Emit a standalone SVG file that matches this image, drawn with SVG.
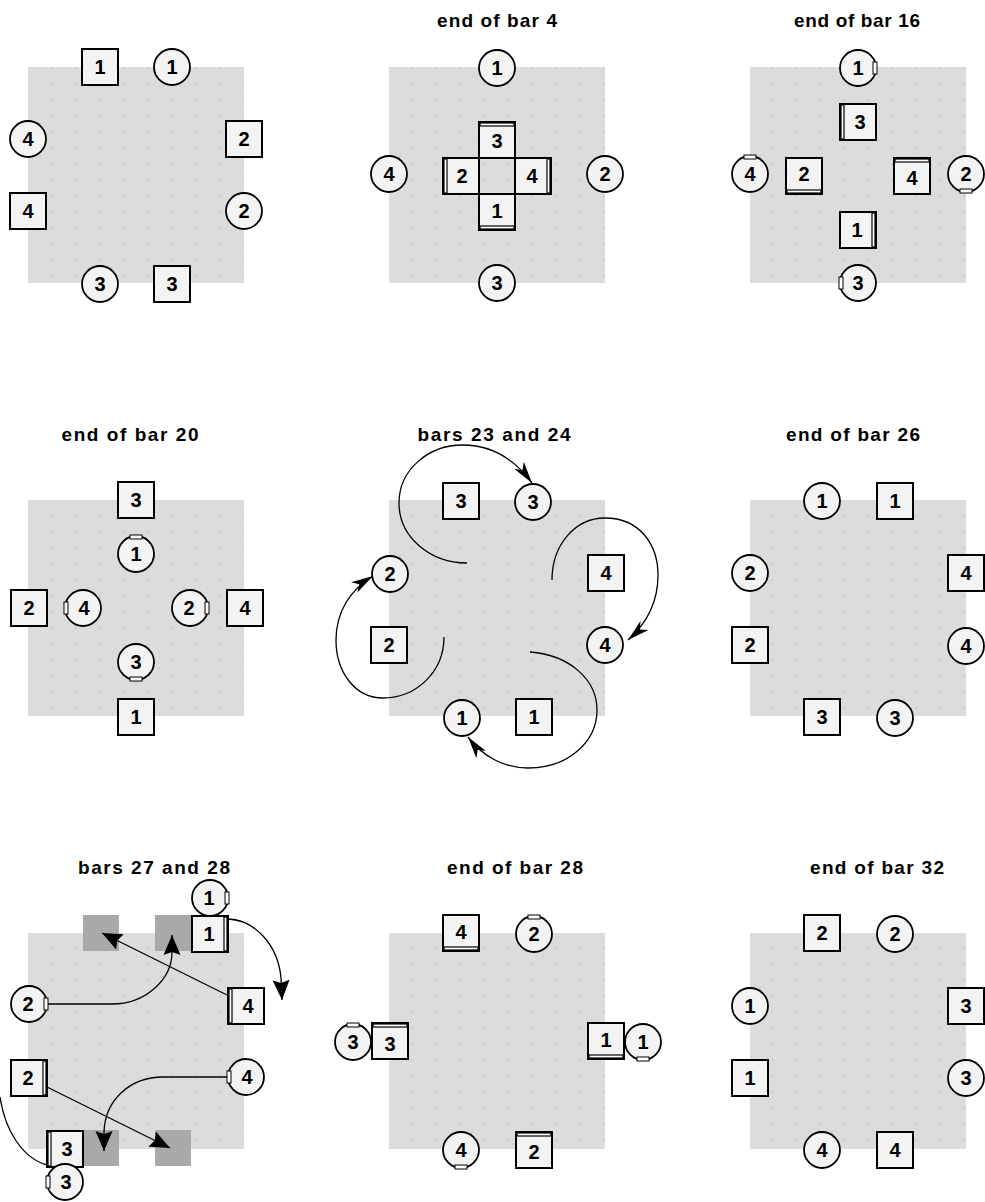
<svg xmlns="http://www.w3.org/2000/svg" width="985" height="1202" viewBox="0 0 985 1202">
<style>
.bg{fill:#dcdcdc}
.dots{fill:url(#dp)}
.sq{fill:#f3f3f3;stroke:#000;stroke-width:2}
.ci{fill:#f3f3f3;stroke:#000;stroke-width:1.8}
.dk{fill:#a9a9a9}
.db{fill:#fff;stroke:#000;stroke-width:1.2}
.mk{fill:#fff;stroke:#000;stroke-width:1}
.n{font-family:"Liberation Sans",Arial,sans-serif;font-weight:bold;font-size:20px;text-anchor:middle;fill:#000}
.t{font-family:"Liberation Sans",Arial,sans-serif;font-weight:bold;font-size:19px;text-anchor:middle;fill:#000}
.c{fill:none;stroke:#000;stroke-width:1.3}
</style>
<defs>
<pattern id="dp" width="24" height="16" patternUnits="userSpaceOnUse">
<circle cx="4" cy="4" r="0.7" fill="#b2b2b2"/>
<circle cx="16" cy="12" r="0.7" fill="#b2b2b2"/>
</pattern>
<marker id="ah" markerUnits="userSpaceOnUse" markerWidth="22" markerHeight="20" refX="20" refY="10" orient="auto">
<path d="M0,1.5 L20,10 L0,18.5 L3,10 z" fill="#000"/>
</marker>
<marker id="as" markerUnits="userSpaceOnUse" markerWidth="24" markerHeight="14" refX="22" refY="7" orient="auto">
<path d="M0,1 L22,7 L0,13 L6,7 z" fill="#000"/>
</marker>
</defs>

<g id="titles">
<text class="t" x="497" y="27" textLength="120" lengthAdjust="spacing">end of bar 4</text>
<text class="t" x="857" y="27" textLength="126" lengthAdjust="spacing">end of bar 16</text>
<text class="t" x="130" y="441" textLength="137" lengthAdjust="spacing">end of bar 20</text>
<text class="t" x="494" y="441" textLength="153" lengthAdjust="spacing">bars 23 and 24</text>
<text class="t" x="853" y="441" textLength="134" lengthAdjust="spacing">end of bar 26</text>
<text class="t" x="154" y="874" textLength="152" lengthAdjust="spacing">bars 27 and 28</text>
<text class="t" x="515" y="874" textLength="136" lengthAdjust="spacing">end of bar 28</text>
<text class="t" x="877" y="874" textLength="134" lengthAdjust="spacing">end of bar 32</text>
</g>

<g id="floors">
<rect class="bg" x="28" y="67" width="216" height="216"/><rect class="dots" x="28" y="67" width="216" height="216"/>
<rect class="bg" x="389" y="67" width="216" height="216"/><rect class="dots" x="389" y="67" width="216" height="216"/>
<rect class="bg" x="750" y="67" width="216" height="216"/><rect class="dots" x="750" y="67" width="216" height="216"/>
<rect class="bg" x="28" y="500" width="216" height="216"/><rect class="dots" x="28" y="500" width="216" height="216"/>
<rect class="bg" x="389" y="500" width="216" height="216"/><rect class="dots" x="389" y="500" width="216" height="216"/>
<rect class="bg" x="750" y="500" width="216" height="216"/><rect class="dots" x="750" y="500" width="216" height="216"/>
<rect class="bg" x="28" y="933" width="216" height="216"/><rect class="dots" x="28" y="933" width="216" height="216"/>
<rect class="bg" x="389" y="933" width="216" height="216"/><rect class="dots" x="389" y="933" width="216" height="216"/>
<rect class="bg" x="750" y="933" width="216" height="216"/><rect class="dots" x="750" y="933" width="216" height="216"/>
<rect class="dk" x="83" y="915" width="36" height="36"/>
<rect class="dk" x="155" y="915" width="36" height="36"/>
<rect class="dk" x="83" y="1130" width="36" height="36"/>
<rect class="dk" x="155" y="1130" width="36" height="36"/>
</g>

<g id="connectors">
<path class="c" marker-end="url(#as)" d="M467,563 C430,563 399,537 399,503 C399,470 428,445 463,445 C492,445 515,460 532,483"/>
<path class="c" marker-end="url(#as)" d="M552,580 C552,545 575,518 605,518 C640,518 658,545 658,575 C658,605 645,625 628,640"/>
<path class="c" marker-end="url(#as)" d="M530,652 C570,655 597,680 597,710 C597,742 568,768 528,768 C505,768 483,757 468,737"/>
<path class="c" marker-end="url(#as)" d="M444,637 C444,672 416,698 383,698 C355,698 336,672 336,640 C336,612 350,590 373,576"/>
<path class="c" marker-end="url(#ah)" d="M227,995 L102,933"/>
<path class="c" marker-end="url(#ah)" d="M47,1004 L112,1004 C145,1004 172,980 172,952 L172,935"/>
<path class="c" marker-end="url(#ah)" d="M228,919 C255,920 278,945 281,978 L282,1000"/>
<path class="c" marker-end="url(#ah)" d="M47,1087 L170,1148"/>
<path class="c" marker-end="url(#ah)" d="M228,1077 L163,1077 C130,1077 105,1100 104,1132 L104,1151"/>
<path class="c" d="M0,1097 C5,1130 22,1158 47,1165"/>
</g>

<!-- Panel 1 -->
<g id="p1-s1"><rect class="sq" x="82" y="49" width="36" height="36"/><text class="n" x="100" y="74">1</text></g>
<g id="p1-c1"><circle class="ci" cx="172" cy="67" r="18"/><text class="n" x="172" y="74">1</text></g>
<g id="p1-c4"><circle class="ci" cx="28" cy="139" r="18"/><text class="n" x="28" y="146">4</text></g>
<g id="p1-s2"><rect class="sq" x="226" y="121" width="36" height="36"/><text class="n" x="244" y="146">2</text></g>
<g id="p1-s4"><rect class="sq" x="10" y="193" width="36" height="36"/><text class="n" x="28" y="218">4</text></g>
<g id="p1-c2"><circle class="ci" cx="244" cy="211" r="18"/><text class="n" x="244" y="218">2</text></g>
<g id="p1-c3"><circle class="ci" cx="100" cy="284" r="18"/><text class="n" x="100" y="291">3</text></g>
<g id="p1-s3"><rect class="sq" x="154" y="266" width="36" height="36"/><text class="n" x="172" y="291">3</text></g>

<!-- Panel 2 -->
<g id="p2-c1"><circle class="ci" cx="497" cy="68" r="18"/><text class="n" x="497" y="75">1</text></g>
<g id="p2-c4"><circle class="ci" cx="389" cy="174" r="18"/><text class="n" x="389" y="181">4</text></g>
<g id="p2-c2"><circle class="ci" cx="605" cy="174" r="18"/><text class="n" x="605" y="181">2</text></g>
<g id="p2-c3"><circle class="ci" cx="497" cy="283" r="18"/><text class="n" x="497" y="290">3</text></g>
<g id="p2-s3"><rect class="sq" x="479" y="122" width="36" height="36"/><rect class="db" x="480" y="123" width="34" height="3"/><text class="n" x="497" y="148">3</text></g>
<g id="p2-s2"><rect class="sq" x="443" y="158" width="36" height="36"/><rect class="db" x="444" y="159" width="3" height="34"/><text class="n" x="462" y="183">2</text></g>
<g id="p2-s4"><rect class="sq" x="515" y="158" width="36" height="36"/><rect class="db" x="547" y="159" width="3" height="34"/><text class="n" x="532" y="183">4</text></g>
<g id="p2-s1"><rect class="sq" x="479" y="194" width="36" height="36"/><rect class="db" x="480" y="226" width="34" height="3"/><text class="n" x="497" y="218">1</text></g>

<!-- Panel 3 -->
<g id="p3-c1"><circle class="ci" cx="858" cy="68" r="18"/><rect class="mk" x="873" y="62" width="4" height="12"/><text class="n" x="858" y="75">1</text></g>
<g id="p3-c4"><circle class="ci" cx="750" cy="174" r="18"/><rect class="mk" x="744" y="155" width="12" height="4"/><text class="n" x="750" y="181">4</text></g>
<g id="p3-c2"><circle class="ci" cx="966" cy="174" r="18"/><rect class="mk" x="960" y="189" width="12" height="4"/><text class="n" x="966" y="181">2</text></g>
<g id="p3-c3"><circle class="ci" cx="858" cy="283" r="18"/><rect class="mk" x="839" y="277" width="4" height="12"/><text class="n" x="858" y="290">3</text></g>
<g id="p3-s3"><rect class="sq" x="840" y="104" width="36" height="36"/><rect class="db" x="841" y="105" width="3" height="34"/><text class="n" x="860" y="129">3</text></g>
<g id="p3-s2"><rect class="sq" x="786" y="158" width="36" height="36"/><rect class="db" x="787" y="190" width="34" height="3"/><text class="n" x="804" y="181">2</text></g>
<g id="p3-s4"><rect class="sq" x="894" y="158" width="36" height="36"/><rect class="db" x="895" y="159" width="34" height="3"/><text class="n" x="912" y="185">4</text></g>
<g id="p3-s1"><rect class="sq" x="840" y="212" width="36" height="36"/><rect class="db" x="872" y="213" width="3" height="34"/><text class="n" x="857" y="237">1</text></g>

<!-- Panel 4 -->
<g id="p4-s3"><rect class="sq" x="118" y="482" width="36" height="36"/><text class="n" x="136" y="507">3</text></g>
<g id="p4-c1"><circle class="ci" cx="136" cy="554" r="18"/><rect class="mk" x="130" y="535" width="12" height="4"/><text class="n" x="136" y="561">1</text></g>
<g id="p4-c4"><circle class="ci" cx="83" cy="608" r="18"/><rect class="mk" x="64" y="602" width="4" height="12"/><text class="n" x="84" y="615">4</text></g>
<g id="p4-c2"><circle class="ci" cx="190" cy="608" r="18"/><rect class="mk" x="205" y="602" width="4" height="12"/><text class="n" x="189" y="615">2</text></g>
<g id="p4-c3"><circle class="ci" cx="136" cy="662" r="18"/><rect class="mk" x="130" y="677" width="12" height="4"/><text class="n" x="136" y="669">3</text></g>
<g id="p4-s2"><rect class="sq" x="11" y="590" width="36" height="36"/><text class="n" x="29" y="615">2</text></g>
<g id="p4-s4"><rect class="sq" x="227" y="590" width="36" height="36"/><text class="n" x="245" y="615">4</text></g>
<g id="p4-s1"><rect class="sq" x="118" y="699" width="36" height="36"/><text class="n" x="136" y="724">1</text></g>

<!-- Panel 5 -->
<g id="p5-s3"><rect class="sq" x="443" y="483" width="36" height="36"/><text class="n" x="461" y="508">3</text></g>
<g id="p5-c3"><circle class="ci" cx="533" cy="502" r="18"/><text class="n" x="533" y="509">3</text></g>
<g id="p5-s4"><rect class="sq" x="588" y="555" width="36" height="36"/><text class="n" x="606" y="580">4</text></g>
<g id="p5-c4"><circle class="ci" cx="605" cy="645" r="18"/><text class="n" x="605" y="652">4</text></g>
<g id="p5-c2"><circle class="ci" cx="390" cy="574" r="18"/><text class="n" x="390" y="581">2</text></g>
<g id="p5-s2"><rect class="sq" x="371" y="627" width="36" height="36"/><text class="n" x="389" y="652">2</text></g>
<g id="p5-c1"><circle class="ci" cx="462" cy="718" r="18"/><text class="n" x="462" y="725">1</text></g>
<g id="p5-s1"><rect class="sq" x="516" y="699" width="36" height="36"/><text class="n" x="534" y="724">1</text></g>

<!-- Panel 6 -->
<g id="p6-c1"><circle class="ci" cx="822" cy="501" r="18"/><text class="n" x="822" y="508">1</text></g>
<g id="p6-s1"><rect class="sq" x="877" y="483" width="36" height="36"/><text class="n" x="895" y="508">1</text></g>
<g id="p6-c2"><circle class="ci" cx="750" cy="573" r="18"/><text class="n" x="750" y="580">2</text></g>
<g id="p6-s2"><rect class="sq" x="732" y="627" width="36" height="36"/><text class="n" x="750" y="652">2</text></g>
<g id="p6-s4"><rect class="sq" x="948" y="555" width="36" height="36"/><text class="n" x="966" y="580">4</text></g>
<g id="p6-c4"><circle class="ci" cx="966" cy="646" r="18"/><text class="n" x="966" y="653">4</text></g>
<g id="p6-s3"><rect class="sq" x="804" y="699" width="36" height="36"/><text class="n" x="822" y="724">3</text></g>
<g id="p6-c3"><circle class="ci" cx="895" cy="718" r="18"/><text class="n" x="895" y="725">3</text></g>

<!-- Panel 7 -->
<g id="p7-c1"><circle class="ci" cx="210" cy="898" r="18"/><rect class="mk" x="225" y="892" width="4" height="12"/><text class="n" x="209" y="905">1</text></g>
<g id="p7-s1"><rect class="sq" x="192" y="916" width="36" height="36"/><rect class="db" x="224" y="917" width="3" height="34"/><text class="n" x="209" y="941">1</text></g>
<g id="p7-c2"><circle class="ci" cx="29" cy="1004" r="18"/><rect class="mk" x="44" y="998" width="4" height="12"/><text class="n" x="28" y="1011">2</text></g>
<g id="p7-s4"><rect class="sq" x="228" y="988" width="36" height="36"/><rect class="db" x="229" y="989" width="3" height="34"/><text class="n" x="248" y="1013">4</text></g>
<g id="p7-s2"><rect class="sq" x="11" y="1060" width="36" height="36"/><rect class="db" x="43" y="1061" width="3" height="34"/><text class="n" x="28" y="1085">2</text></g>
<g id="p7-c4"><circle class="ci" cx="246" cy="1077" r="18"/><rect class="mk" x="227" y="1071" width="4" height="12"/><text class="n" x="247" y="1084">4</text></g>
<g id="p7-s3"><rect class="sq" x="47" y="1131" width="36" height="36"/><rect class="db" x="48" y="1132" width="3" height="34"/><text class="n" x="67" y="1156">3</text></g>
<g id="p7-c3"><circle class="ci" cx="65" cy="1182" r="18"/><rect class="mk" x="46" y="1176" width="4" height="12"/><text class="n" x="66" y="1189">3</text></g>

<!-- Panel 8 -->
<g id="p8-s4"><rect class="sq" x="443" y="915" width="36" height="36"/><rect class="db" x="444" y="947" width="34" height="3"/><text class="n" x="461" y="939">4</text></g>
<g id="p8-c2"><circle class="ci" cx="534" cy="934" r="18"/><rect class="mk" x="528" y="915" width="12" height="4"/><text class="n" x="534" y="941">2</text></g>
<g id="p8-c3"><circle class="ci" cx="353" cy="1042" r="18"/><rect class="mk" x="347" y="1023" width="12" height="4"/><text class="n" x="353" y="1049">3</text></g>
<g id="p8-s3"><rect class="sq" x="372" y="1023" width="36" height="36"/><rect class="db" x="373" y="1024" width="34" height="3"/><text class="n" x="390" y="1051">3</text></g>
<g id="p8-s1"><rect class="sq" x="588" y="1023" width="36" height="36"/><rect class="db" x="589" y="1055" width="34" height="3"/><text class="n" x="606" y="1047">1</text></g>
<g id="p8-c1"><circle class="ci" cx="643" cy="1042" r="18"/><rect class="mk" x="637" y="1057" width="12" height="4"/><text class="n" x="643" y="1049">1</text></g>
<g id="p8-c4"><circle class="ci" cx="461" cy="1150" r="18"/><rect class="mk" x="455" y="1165" width="12" height="4"/><text class="n" x="461" y="1157">4</text></g>
<g id="p8-s2"><rect class="sq" x="516" y="1132" width="36" height="36"/><rect class="db" x="517" y="1133" width="34" height="3"/><text class="n" x="534" y="1159">2</text></g>

<!-- Panel 9 -->
<g id="p9-s2"><rect class="sq" x="804" y="915" width="36" height="36"/><text class="n" x="822" y="940">2</text></g>
<g id="p9-c2"><circle class="ci" cx="895" cy="934" r="18"/><text class="n" x="895" y="941">2</text></g>
<g id="p9-c1"><circle class="ci" cx="750" cy="1006" r="18"/><text class="n" x="750" y="1013">1</text></g>
<g id="p9-s3"><rect class="sq" x="948" y="988" width="36" height="36"/><text class="n" x="966" y="1013">3</text></g>
<g id="p9-s1"><rect class="sq" x="732" y="1060" width="36" height="36"/><text class="n" x="750" y="1085">1</text></g>
<g id="p9-c3"><circle class="ci" cx="966" cy="1078" r="18"/><text class="n" x="966" y="1085">3</text></g>
<g id="p9-c4"><circle class="ci" cx="822" cy="1150" r="18"/><text class="n" x="822" y="1157">4</text></g>
<g id="p9-s4"><rect class="sq" x="877" y="1132" width="36" height="36"/><text class="n" x="895" y="1157">4</text></g>
</svg>
